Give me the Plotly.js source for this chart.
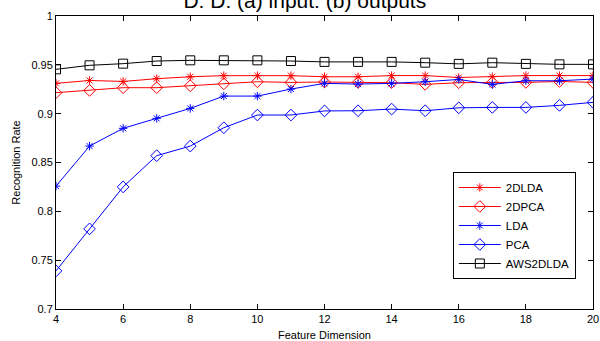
<!DOCTYPE html>
<html>
<head>
<meta charset="utf-8">
<script src="https://cdn.plot.ly/plotly-3.0.1.min.js"></script>
<style>html,body{margin:0;padding:0;background:#fff;}#chart{width:600px;height:341px;}</style>
</head>
<body>
<div id="chart"></div>
<script>
const dims = [4,5,6,7,8,9,10,11,12,13,14,15,16,17,18,19,20];
const lda2d = [0.931,0.934,0.933,0.9358,0.9378,0.9389,0.9389,0.9389,0.9378,0.9378,0.939,0.939,0.937,0.9378,0.939,0.939,0.939];
const pca2d = [0.9215,0.9238,0.9266,0.9266,0.9286,0.9306,0.9327,0.932,0.9324,0.932,0.9317,0.930,0.9317,0.932,0.932,0.933,0.932];
const lda = [0.8258,0.8668,0.885,0.8952,0.9054,0.918,0.918,0.9252,0.931,0.9303,0.931,0.9327,0.935,0.930,0.9337,0.9337,0.9354];
const pca = [0.739,0.782,0.825,0.857,0.8668,0.8856,0.8986,0.8986,0.9028,0.903,0.9047,0.903,0.906,0.9064,0.9064,0.9085,0.9116];
const aws = [0.9454,0.9495,0.9512,0.9539,0.9546,0.9546,0.9546,0.9539,0.953,0.953,0.953,0.9522,0.951,0.9522,0.951,0.9505,0.9505];
const seriesNames = ['2DLDA','2DPCA','LDA','PCA','AWS2DLDA'];
const xTicks = [4,6,8,10,12,14,16,18,20];
const yTicks = [0.7,0.75,0.8,0.85,0.9,0.95,1];
const yTickText = ['0.7','0.75','0.8','0.85','0.9','0.95','1'];
const titleText = 'D: D: (a) input: (b) outputs';

function tr(y, name, color, symbol, size){
  return {x: dims, y: y, name: name, type: 'scatter', mode: 'lines+markers',
    line: {color: color, width: 1},
    marker: {symbol: symbol, size: size, color: color, line: {color: color, width: 1}}};
}
const data = [
  tr(lda2d, seriesNames[0], '#ff0000', 'asterisk-open', 7),
  tr(pca2d, seriesNames[1], '#ff0000', 'diamond-open', 9),
  tr(lda, seriesNames[2], '#0000ff', 'asterisk-open', 7),
  tr(pca, seriesNames[3], '#0000ff', 'diamond-open', 9),
  tr(aws, seriesNames[4], '#000000', 'square-open', 9)
];
const axisCommon = {showgrid: false, zeroline: false, showline: true, linecolor: '#000', linewidth: 1,
  mirror: 'ticks', ticks: 'inside', ticklen: 5, tickcolor: '#000', tickwidth: 1,
  tickfont: {family: 'Arial, Liberation Sans, sans-serif', size: 11, color: '#000'}};
const layout = {
  width: 600, height: 341,
  margin: {l: 56, r: 7, t: 16, b: 32},
  paper_bgcolor: '#fff', plot_bgcolor: '#fff',
  font: {family: 'Arial, Liberation Sans, sans-serif', color: '#000'},
  title: {text: titleText, font: {size: 21, color: '#000'}, x: 0.508, xref: 'container', xanchor: 'center',
    y: 0.999, yref: 'container', yanchor: 'middle'},
  xaxis: Object.assign({}, axisCommon, {range: [4,20], tickvals: xTicks,
    title: {text: 'Feature Dimension', font: {size: 11, color: '#000'}, standoff: 7}}),
  yaxis: Object.assign({}, axisCommon, {range: [0.7,1], tickvals: yTicks, ticktext: yTickText,
    title: {text: 'Recognition Rate', font: {size: 11, color: '#000'}, standoff: 8}}),
  showlegend: true,
  legend: {x: 0.739, y: 0.4676, xanchor: 'left', yanchor: 'top', bgcolor: '#fff', bordercolor: '#000', borderwidth: 1,
    font: {size: 11.5, color: '#000'}, tracegroupgap: 0, itemwidth: 42}
};
Plotly.newPlot('chart', data, layout, {displayModeBar: false, staticPlot: true});
</script>
</body>
</html>
